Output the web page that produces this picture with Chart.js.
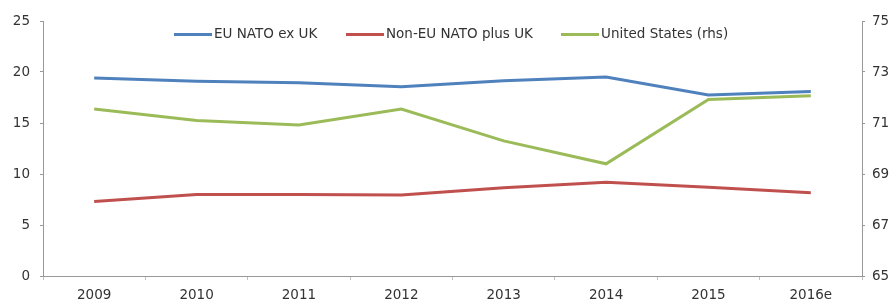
<!DOCTYPE html>
<html>
<head>
<meta charset="utf-8">
<script src="https://cdn.jsdelivr.net/npm/chart.js@4/dist/chart.umd.min.js"></script>
<style>
  body { margin: 0; background: #fff; }
  #wrap { position: relative; width: 893px; height: 303px; }
  #legenda {
    position: absolute; top: 25px; left: 0; width: 893px;
    font-family: 'DejaVu Sans', sans-serif; font-size: 13.5px; color: #333;
  }
  .item { position: absolute; white-space: nowrap; line-height: 16px; }
  .item span.linha { display: inline-block; width: 38px; height: 3px; vertical-align: middle; margin-right: 2px; }
</style>
</head>
<body>
<div id="wrap">
  <canvas id="lineDefesa"></canvas>
  <div id="legenda"></div>
</div>
<script>
// dados
const anos = ['2009', '2010', '2011', '2012', '2013', '2014', '2015', '2016e'];
const euNatoExUk = [19.4, 19.1, 18.95, 18.55, 19.15, 19.5, 17.75, 18.1];
const nonEuNatoPlusUk = [7.3, 8.0, 8.0, 7.95, 8.65, 9.2, 8.7, 8.15];
const unitedStates = [71.55, 71.1, 70.92, 71.55, 70.3, 69.4, 71.92, 72.07];
const ticksEsq = [0, 5, 10, 15, 20, 25];
const ticksDir = [65, 67, 69, 71, 73, 75];

const fonte = { family: "'DejaVu Sans', sans-serif", size: 13.5 };
const cinza = '#999999';

const dadosDefesa = {
    labels: anos,
    datasets: [{
        label: 'EU NATO ex UK',
        data: euNatoExUk,
        borderColor: '#4F81BD',
        yAxisID: 'y'
    }, {
        label: 'Non-EU NATO plus UK',
        data: nonEuNatoPlusUk,
        borderColor: '#C0504D',
        yAxisID: 'y'
    }, {
        label: 'United States (rhs)',
        data: unitedStates,
        borderColor: '#9BBB59',
        yAxisID: 'y2'
    }]
};

const configDefesa = {
    type: 'line',
    data: dadosDefesa,
    options: {
        responsive: false,
        animation: false,
        elements: {
            line: { borderWidth: 3, tension: 0, fill: false },
            point: { radius: 0 }
        },
        layout: { padding: { top: 21, left: 0, right: 0, bottom: 0 } },
        scales: {
            x: {
                offset: true,
                grid: { offset: true, drawOnChartArea: false, tickLength: 4, color: '#c0c0c0' },
                border: { color: cinza },
                ticks: { color: '#333', font: fonte, padding: 7, maxRotation: 0 },
                afterFit: s => { s.height = 27; }
            },
            y: {
                position: 'left',
                min: 0, max: 25,
                afterBuildTicks: s => { s.ticks = ticksEsq.map(v => ({ value: v })); },
                grid: { drawOnChartArea: false, tickLength: 3, color: cinza },
                border: { color: cinza },
                ticks: { color: '#333', font: fonte, padding: 10 },
                afterFit: s => { s.width = 43; }
            },
            y2: {
                position: 'right',
                min: 65, max: 75,
                afterBuildTicks: s => { s.ticks = ticksDir.map(v => ({ value: v })); },
                grid: { drawOnChartArea: false, tickLength: 3, color: cinza },
                border: { color: cinza },
                ticks: { color: '#333', font: fonte, padding: 7 },
                afterFit: s => { s.width = 31; }
            }
        },
        plugins: {
            legend: { display: false },
            tooltip: { enabled: false }
        }
    }
};

const ctxDefesa = document.getElementById('lineDefesa').getContext('2d');
ctxDefesa.canvas.width = 893;
ctxDefesa.canvas.height = 303;
new Chart(ctxDefesa, configDefesa);

// legenda em html
const posLegenda = [174, 346, 561];
const leg = document.getElementById('legenda');
dadosDefesa.datasets.forEach(function (ds, i) {
    const d = document.createElement('div');
    d.className = 'item';
    d.style.left = posLegenda[i] + 'px';
    d.innerHTML = '<span class="linha" style="background:' + ds.borderColor + '"></span>' + ds.label;
    leg.appendChild(d);
});
</script>
</body>
</html>
